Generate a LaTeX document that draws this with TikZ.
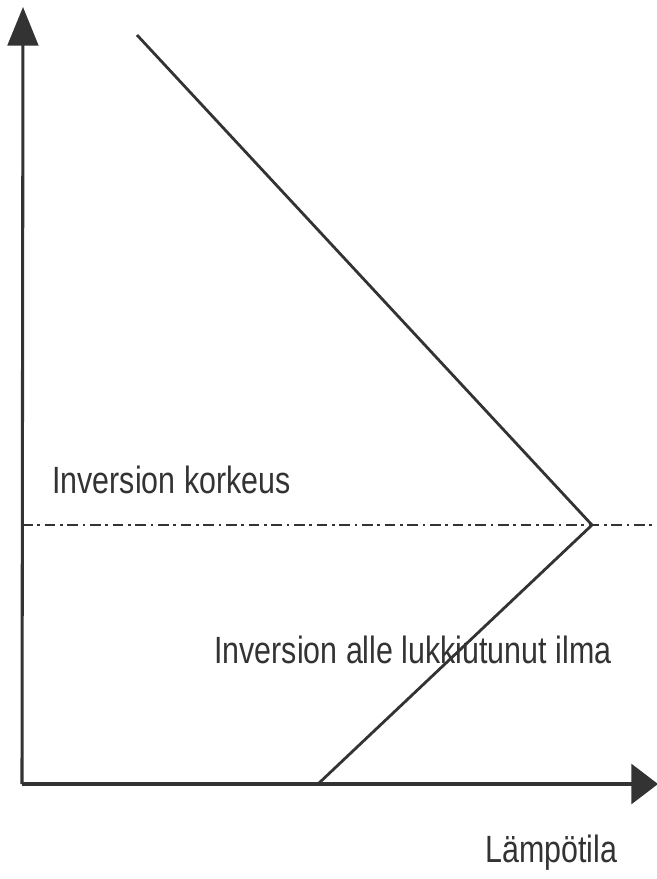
\documentclass[tikz,border=0pt]{standalone}
\usepackage{fontspec}
\setmainfont[FakeStretch=0.8]{Liberation Sans}
\usetikzlibrary{arrows.meta}
\definecolor{ink}{HTML}{333333}

\begin{document}
\begin{tikzpicture}[x=0.75pt,y=-0.75pt]

%styles
\tikzset{
    axis/.style={draw=ink, line width=2.3pt},
    curve/.style={draw=ink, line width=2.1pt},
    level/.style={draw=ink, line width=2.1pt, dash pattern=on 8pt off 3.5pt on 2pt off 3.5pt},
    label/.style={text=ink, inner sep=0pt, anchor=base west, font=\fontsize{28.5}{30}\selectfont}
}

\useasboundingbox (0,0) rectangle (657,879);

%points
\coordinate (O) at (22,784);
\coordinate (ytip) at (23,7);
\coordinate (xtip) at (658,784);
\coordinate (top) at (137,35);
\coordinate (apex) at (592,525);
\coordinate (foot) at (318,784);
\coordinate (lvlL) at (22,525);
\coordinate (lvlR) at (657,525);

%axes
\draw[axis, -{Triangle[length=29pt, width=23pt, fill=ink]}] (O) -- (ytip);
\draw[axis, -{Triangle[length=20pt, width=30pt, fill=ink]}] (O) -- (xtip);

%inversion level
\draw[level] (lvlL) -- (lvlR);

%temperature profile
\draw[curve] (top) -- (apex) -- (foot);

\node[label] (korkeus) at (52,493) {Inversion korkeus};
\node[label] (ilma) at (214,663) {Inversion alle lukkiutunut ilma};
\node[label] (lampo) at (485,862) {Lämpötila};

\end{tikzpicture}
\end{document}
